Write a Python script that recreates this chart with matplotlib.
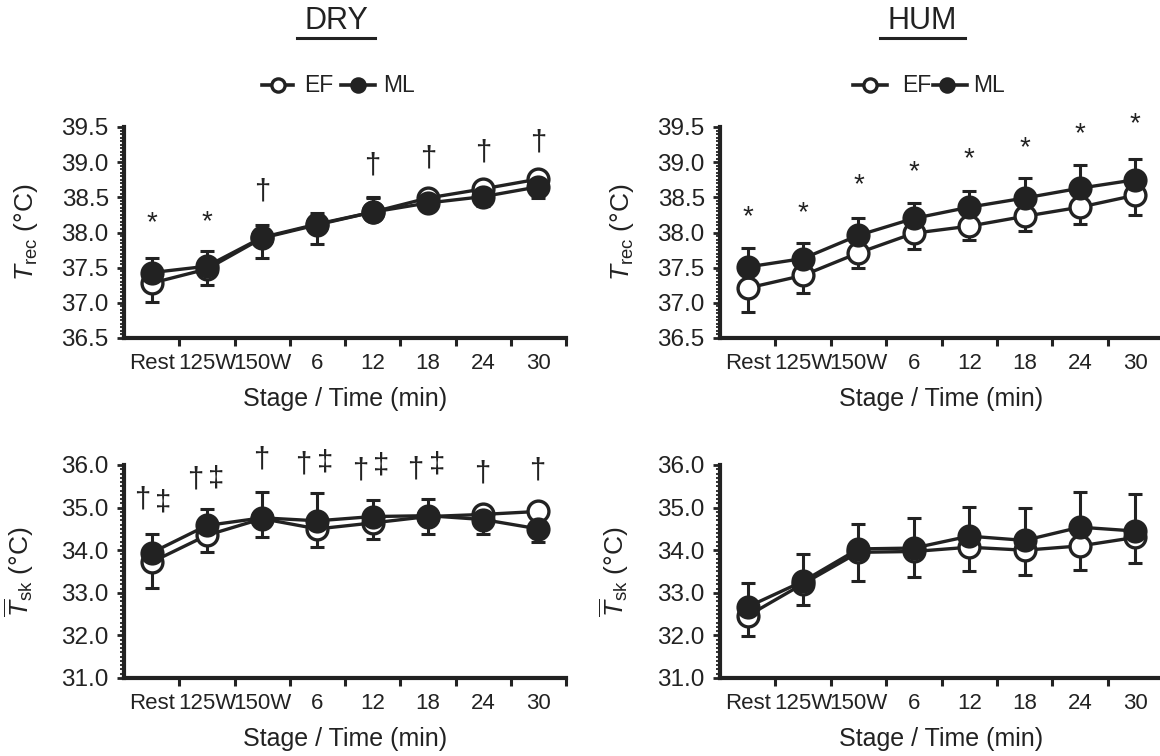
import matplotlib
matplotlib.use("Agg")
import matplotlib.pyplot as plt
from matplotlib.lines import Line2D
from matplotlib.ticker import AutoMinorLocator, MultipleLocator, FormatStrFormatter
import numpy as np

plt.rcParams['font.family'] = ['Liberation Sans', 'DejaVu Sans']
plt.rcParams['mathtext.fontset'] = 'custom'
plt.rcParams['mathtext.rm'] = 'Liberation Sans'
plt.rcParams['mathtext.it'] = 'Liberation Sans:italic'

INK = '#222222'

stages = ["Rest", "125W", "150W", "6", "12", "18", "24", "30"]

# rectal temperature, DRY
dry_trec_ef = [37.28, 37.48, 37.92, 38.11, 38.29, 38.49, 38.62, 38.76]
dry_trec_ml = [37.43, 37.52, 37.93, 38.12, 38.29, 38.42, 38.51, 38.65]
dry_trec_ef_sd = [0.27, 0.23, 0.28, 0.27, 0.21, 0.08, 0.06, 0.05]
dry_trec_ml_sd = [0.21, 0.21, 0.17, 0.16, 0.20, 0.08, 0.14, 0.16]

# rectal temperature, HUM
hum_trec_ef = [37.21, 37.39, 37.71, 37.99, 38.09, 38.23, 38.36, 38.53]
hum_trec_ml = [37.51, 37.63, 37.96, 38.20, 38.36, 38.49, 38.63, 38.75]
hum_trec_ef_sd = [0.34, 0.25, 0.22, 0.23, 0.19, 0.21, 0.24, 0.28]
hum_trec_ml_sd = [0.27, 0.22, 0.24, 0.22, 0.23, 0.28, 0.33, 0.29]

# mean skin temperature, DRY
dry_tsk_ef = [33.72, 34.35, 34.74, 34.50, 34.64, 34.79, 34.84, 34.91]
dry_tsk_ml = [33.94, 34.58, 34.76, 34.69, 34.79, 34.81, 34.72, 34.50]
dry_tsk_ef_sd = [0.60, 0.40, 0.44, 0.43, 0.38, 0.41, 0.06, 0.05]
dry_tsk_ml_sd = [0.43, 0.38, 0.61, 0.66, 0.38, 0.40, 0.34, 0.31]

# mean skin temperature, HUM
hum_tsk_ef = [32.46, 33.21, 33.95, 33.97, 34.07, 34.00, 34.10, 34.30]
hum_tsk_ml = [32.67, 33.27, 34.03, 34.05, 34.33, 34.23, 34.54, 34.45]
hum_tsk_ef_sd = [0.47, 0.50, 0.68, 0.59, 0.55, 0.59, 0.57, 0.61]
hum_tsk_ml_sd = [0.57, 0.65, 0.58, 0.70, 0.68, 0.77, 0.83, 0.87]

# significance symbols: (symbol, stage position, y)
dry_trec_marks = [("*", 0, 38.20), ("*", 1, 38.21), ("†", 2, 38.58), ("†", 4, 38.95),
                  ("†", 5, 39.05), ("†", 6, 39.14), ("†", 7, 39.28)]
hum_trec_marks = [("*", 0, 38.28), ("*", 1, 38.35), ("*", 2, 38.74), ("*", 3, 38.92),
                  ("*", 4, 39.11), ("*", 5, 39.27), ("*", 6, 39.46), ("*", 7, 39.61)]
dry_tsk_marks = [("†", -0.17, 35.18), ("‡", 0.20, 35.13),
                 ("†", 0.79, 35.66), ("‡", 1.17, 35.69),
                 ("†", 1.99, 36.14),
                 ("†", 2.75, 36.01), ("‡", 3.14, 36.06),
                 ("†", 3.77, 35.88), ("‡", 4.15, 35.99),
                 ("†", 4.77, 35.90), ("‡", 5.17, 36.00),
                 ("†", 5.98, 35.80), ("†", 6.98, 35.87)]
hum_tsk_marks = []

fig = plt.figure(figsize=(11.6, 7.56), dpi=100)

W, H = 1160, 756
def px_axes(x0, x1, ytop, ybot):
    return fig.add_axes([x0 / W, 1 - ybot / H, (x1 - x0) / W, (ybot - ytop) / H])

ax_tl = px_axes(124, 566, 127, 338)
ax_tr = px_axes(720, 1163, 127, 338)
ax_bl = px_axes(124, 566, 465, 678)
ax_br = px_axes(720, 1163, 465, 678)

x = np.arange(len(stages))


def one_sided(a, b, sd):
    # error bar points away from the other series
    a, b, sd = np.asarray(a), np.asarray(b), np.asarray(sd)
    up = np.where(a >= b, sd, 0.0)
    lo = np.where(a < b, sd, 0.0)
    return [lo, up]


def panel(ax, ef, ml, ef_sd, ml_sd, ylim, major, ylabel, marks, labx):
    ax.errorbar(x, ef, yerr=one_sided(ef, ml, ef_sd), fmt='none', ecolor=INK,
                elinewidth=2.2, capsize=5, capthick=2.2, zorder=2)
    ax.errorbar(x, ml, yerr=one_sided(ml, ef, ml_sd), fmt='none', ecolor=INK,
                elinewidth=2.2, capsize=5, capthick=2.2, zorder=2)
    ax.plot(x, ef, '-o', color=INK, lw=2.4, ms=15, mfc='white', mec=INK,
            mew=2.4, zorder=3, clip_on=False)
    ax.plot(x, ml, '-o', color=INK, lw=2.4, ms=15, mfc=INK, mec=INK,
            mew=2.4, zorder=4, clip_on=False)

    for sym, pos, yv in marks:
        # the asterisk glyph sits high in its line box, nudge it down
        dy = -3.5 if sym == "*" else 0
        size = 20 if sym == "*" else 21
        ax.annotate(sym, (pos, yv), xytext=(0, dy), textcoords='offset points',
                    ha='center', va='center', fontsize=size, color=INK,
                    annotation_clip=False, zorder=5)

    ax.set_xlim(-0.5, 7.5)
    ax.set_ylim(*ylim)
    ax.set_xticks(np.arange(0.5, 8, 1.0))
    ax.set_xticklabels([])
    ax.set_xticks(x, stages, minor=True)
    ax.tick_params(axis='x', which='major', direction='out', length=6,
                   width=2.2, color=INK)
    ax.tick_params(axis='x', which='minor', length=0, pad=11,
                   labelsize=16, labelcolor=INK)
    ax.yaxis.set_major_locator(MultipleLocator(major))
    ax.yaxis.set_minor_locator(AutoMinorLocator(10))
    ax.yaxis.set_major_formatter(FormatStrFormatter('%.1f'))
    ax.tick_params(axis='y', which='major', direction='out', length=5,
                   width=2, color=INK, labelsize=17.5, labelcolor=INK, pad=6)
    ax.tick_params(axis='y', which='minor', direction='out', length=3,
                   width=1.3, color=INK)
    for side in ('top', 'right'):
        ax.spines[side].set_visible(False)
    for side in ('left', 'bottom'):
        ax.spines[side].set_linewidth(3)
        ax.spines[side].set_color(INK)
    ax.set_xlabel("Stage / Time (min)", fontsize=18, color=INK, labelpad=9)
    ax.set_ylabel(ylabel, fontsize=19, color=INK)
    ax.yaxis.set_label_coords(labx, 0.5)


trec_label = r'$T_{\mathrm{rec}}$ (°C)'
tsk_label = r'$\overline{T}_{\mathrm{sk}}$ (°C)'

panel(ax_tl, dry_trec_ef, dry_trec_ml, dry_trec_ef_sd, dry_trec_ml_sd,
      (36.5, 39.5), 0.5, trec_label, dry_trec_marks, -0.19)
panel(ax_tr, hum_trec_ef, hum_trec_ml, hum_trec_ef_sd, hum_trec_ml_sd,
      (36.5, 39.5), 0.5, trec_label, hum_trec_marks, -0.19)
panel(ax_bl, dry_tsk_ef, dry_tsk_ml, dry_tsk_ef_sd, dry_tsk_ml_sd,
      (31.0, 36.0), 1.0, tsk_label, dry_tsk_marks, -0.2)
panel(ax_br, hum_tsk_ef, hum_tsk_ml, hum_tsk_ef_sd, hum_tsk_ml_sd,
      (31.0, 36.0), 1.0, tsk_label, hum_tsk_marks, -0.2)

# condition titles, underlined
for title, cx, x0, x1 in [("DRY", 336, 297, 375), ("HUM", 922, 880, 965)]:
    fig.text(cx / W, 1 - 21 / H, title, ha='center', va='center',
             fontsize=22, color=INK)
    fig.add_artist(Line2D([x0 / W, x1 / W], [1 - 38 / H, 1 - 38 / H],
                          color=INK, lw=2.2))

# legends
def legend_key(x0, x1, cx, filled, label, tx, y=85):
    yy = 1 - y / H
    fig.add_artist(Line2D([x0 / W, x1 / W], [yy, yy], color=INK, lw=2.6))
    fig.add_artist(Line2D([cx / W], [yy], marker='o', ms=9.5,
                          mfc=INK if filled else 'white', mec=INK, mew=2.4))
    fig.text(tx / W, yy, label, ha='left', va='center', fontsize=16.5, color=INK)

legend_key(262, 293, 278, False, "EF", 304)
legend_key(341, 375, 358, True, "ML", 383)
legend_key(853, 887, 870, False, "EF", 902)
legend_key(933, 967, 947, True, "ML", 973)

fig.savefig("out.png", dpi=100)
